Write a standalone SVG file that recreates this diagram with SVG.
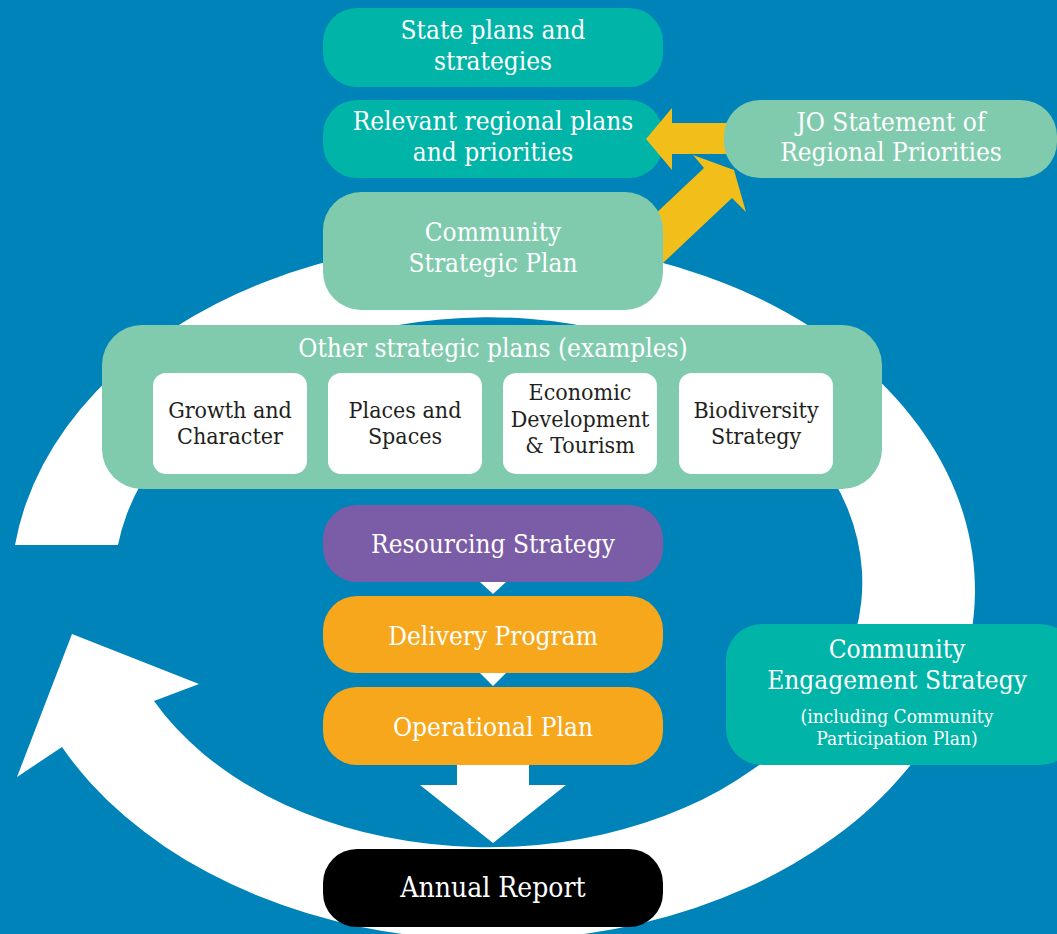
<svg xmlns="http://www.w3.org/2000/svg" width="1057" height="934" viewBox="0 0 1057 934">
  <style>
    .teal { fill: #00B5A7; }
    .mint { fill: #80CBAE; }
    .purple { fill: #7B5CA6; }
    .orange { fill: #F7A71C; }
    .dark { fill: #000000; }
    .card { fill: #FFFFFF; }
    .lbl { font-family: 'DejaVu Serif Condensed', 'DejaVu Serif', 'Liberation Serif', serif; font-size: 26px; fill: #FFFFFF; text-anchor: middle; }
    .sub { font-family: 'DejaVu Serif Condensed', 'DejaVu Serif', 'Liberation Serif', serif; font-size: 19px; fill: #FFFFFF; text-anchor: middle; }
    .cardtxt { font-family: 'DejaVu Serif Condensed', 'DejaVu Serif', 'Liberation Serif', serif; font-size: 23px; fill: #231F20; text-anchor: middle; }
    .yellow { fill: #F2BE1A; }
    .white { fill: #FFFFFF; }
  </style>

  <!-- background -->
  <rect x="0" y="0" width="1057" height="934" fill="#0083B8"/>

  <!-- cycle ring with arrowhead on the lower left -->
  <g id="cycle">
    <path class="white" d="M 15 545 A 482 350 0 1 1 62 747 L 17 777 L 72 634 L 199 684 L 154 701 A 374 265 0 1 0 118 545 Z"/>
  </g>

  <g id="state-plans">
    <rect class="teal" x="323" y="8" width="340" height="79" rx="34"/>
    <text class="lbl" x="493" y="39">State plans and</text>
    <text class="lbl" x="493" y="70">strategies</text>
  </g>

  <g id="regional-plans">
    <rect class="teal" x="323" y="100" width="340" height="78" rx="34"/>
    <text class="lbl" x="493" y="130">Relevant regional plans</text>
    <text class="lbl" x="493" y="161">and priorities</text>
  </g>

  <!-- connectors -->
  <g id="connectors">
    <!-- JO statement feeds regional plans -->
    <polygon class="yellow" points="646,139 672,108 672,123 735,123 735,154 672,154 672,170"/>
    <!-- community strategic plan feeds JO statement -->
    <polygon class="yellow" points="617,250 704,168 693,155 734,170 746,212 732,198 645,280"/>
    <!-- flow between the resourcing, delivery and operational stages -->
    <polygon class="white" points="480,582 506,582 493,594"/>
    <polygon class="white" points="480,673 506,673 493,686"/>
    <!-- down to the annual report -->
    <polygon class="white" points="457,765 529,765 529,785 566,785 493,843 420,785 457,785"/>
  </g>

  <g id="jo-statement">
    <rect class="mint" x="724" y="100" width="333" height="78" rx="36"/>
    <text class="lbl" x="891" y="131">JO Statement of</text>
    <text class="lbl" x="891" y="161">Regional Priorities</text>
  </g>

  <g id="community-strategic-plan">
    <rect class="mint" x="323" y="192" width="340" height="118" rx="38"/>
    <text class="lbl" x="493" y="241">Community</text>
    <text class="lbl" x="493" y="272">Strategic Plan</text>
  </g>

  <g id="other-plans">
    <rect class="mint" x="102" y="325" width="780" height="164" rx="40"/>
    <text class="lbl" x="493" y="357">Other strategic plans (examples)</text>
  </g>

  <g id="growth-character">
    <rect class="card" x="153" y="373" width="154" height="101" rx="13"/>
    <text class="cardtxt" x="230" y="418">Growth and</text>
    <text class="cardtxt" x="230" y="444">Character</text>
  </g>

  <g id="places-spaces">
    <rect class="card" x="328" y="373" width="154" height="101" rx="13"/>
    <text class="cardtxt" x="405" y="418">Places and</text>
    <text class="cardtxt" x="405" y="444">Spaces</text>
  </g>

  <g id="economic-development">
    <rect class="card" x="503" y="373" width="154" height="101" rx="13"/>
    <text class="cardtxt" x="580" y="400">Economic</text>
    <text class="cardtxt" x="580" y="427">Development</text>
    <text class="cardtxt" x="580" y="453">&amp; Tourism</text>
  </g>

  <g id="biodiversity">
    <rect class="card" x="679" y="373" width="154" height="101" rx="13"/>
    <text class="cardtxt" x="756" y="418">Biodiversity</text>
    <text class="cardtxt" x="756" y="444">Strategy</text>
  </g>

  <g id="resourcing-strategy">
    <rect class="purple" x="323" y="505" width="340" height="77" rx="34"/>
    <text class="lbl" x="493" y="553">Resourcing Strategy</text>
  </g>

  <g id="delivery-program">
    <rect class="orange" x="323" y="596" width="340" height="77" rx="34"/>
    <text class="lbl" x="493" y="645">Delivery Program</text>
  </g>

  <g id="operational-plan">
    <rect class="orange" x="323" y="687" width="340" height="78" rx="34"/>
    <text class="lbl" x="493" y="736">Operational Plan</text>
  </g>

  <g id="annual-report">
    <rect class="dark" x="323" y="849" width="340" height="78" rx="34"/>
    <text class="lbl" x="493" y="897" style="font-size:28px">Annual Report</text>
  </g>

  <g id="community-engagement">
    <rect class="teal" x="726" y="624" width="350" height="141" rx="36"/>
    <text class="lbl" x="897" y="658">Community</text>
    <text class="lbl" x="897" y="689">Engagement Strategy</text>
    <text class="sub" x="897" y="723">(including Community</text>
    <text class="sub" x="897" y="745">Participation Plan)</text>
  </g>
</svg>
